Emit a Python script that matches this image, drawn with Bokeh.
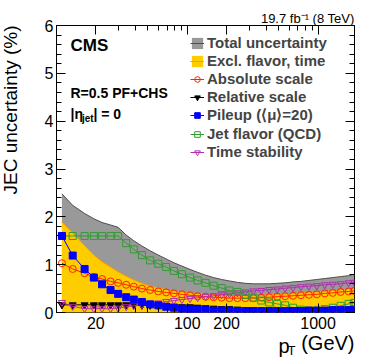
from bokeh.plotting import figure
from bokeh.models import (ColumnDataSource, Label, Legend, LegendItem, LogAxis, LinearAxis,
                          FixedTicker, Range1d, NumeralTickFormatter, SingleIntervalTicker)
from bokeh.embed import file_html
from bokeh.resources import INLINE
import math

# ---- data ----
pt = [11, 13.3, 16.4, 19.3, 22.3, 25.9, 29.6, 34.1, 39, 45, 52, 60, 69, 79, 91, 105, 120, 138,
      159, 183, 210, 242, 278, 320, 368, 423, 487, 560, 644, 740, 851, 979, 1126, 1295, 1489,
      1712, 1890]
total = [2.48, 2.24, 2.07, 1.96, 1.88, 1.83, 1.78, 1.62, 1.50, 1.39, 1.29, 1.20, 1.12, 1.04,
         0.97, 0.90, 0.84, 0.78, 0.73, 0.69, 0.66, 0.63, 0.61, 0.60, 0.60, 0.60, 0.61, 0.62,
         0.64, 0.65, 0.67, 0.69, 0.71, 0.73, 0.75, 0.77, 0.80]
excl = [1.89, 1.66, 1.40, 1.20, 1.06, 0.95, 0.85, 0.76, 0.68, 0.61, 0.55, 0.51, 0.48, 0.45,
        0.43, 0.41, 0.39, 0.38, 0.37, 0.36, 0.35, 0.35, 0.35, 0.35, 0.36, 0.37, 0.38, 0.39,
        0.40, 0.41, 0.42, 0.43, 0.44, 0.46, 0.47, 0.49, 0.50]
absolute = [1.03, 0.91, 0.82, 0.74, 0.70, 0.65, 0.62, 0.58, 0.54, 0.50, 0.47, 0.44, 0.42, 0.40,
            0.38, 0.36, 0.34, 0.33, 0.32, 0.31, 0.30, 0.30, 0.30, 0.30, 0.31, 0.32, 0.33, 0.34,
            0.35, 0.36, 0.37, 0.38, 0.40, 0.41, 0.43, 0.44, 0.45]
relative = [0.16, 0.16, 0.16, 0.16, 0.16, 0.16, 0.16, 0.16, 0.16, 0.15, 0.15, 0.14, 0.14, 0.13,
            0.12, 0.12, 0.11, 0.10, 0.09, 0.08, 0.08, 0.07, 0.06, 0.06, 0.05, 0.05, 0.04, 0.04,
            0.04, 0.04, 0.04, 0.04, 0.04, 0.04, 0.04, 0.04, 0.04]
pileup = [1.60, 1.19, 0.91, 0.73, 0.59, 0.47, 0.39, 0.32, 0.27, 0.22, 0.17, 0.15, 0.12, 0.10,
          0.08, 0.07, 0.06, 0.05, 0.04, 0.04, 0.04, 0.03, 0.03, 0.03, 0.03, 0.03, 0.03, 0.03,
          0.03, 0.03, 0.04, 0.04, 0.04, 0.05, 0.05, 0.05, 0.06]
flavor = [1.60, 1.60, 1.60, 1.60, 1.60, 1.60, 1.60, 1.45, 1.32, 1.20, 1.09, 1.02, 0.95, 0.87,
          0.80, 0.73, 0.67, 0.62, 0.56, 0.51, 0.46, 0.43, 0.37, 0.31, 0.25, 0.21, 0.18, 0.15,
          0.10, 0.06, 0.04, 0.04, 0.07, 0.10, 0.14, 0.18, 0.20]
time_stab = [0.21, 0.13, 0.08, 0.08, 0.08, 0.08, 0.09, 0.12, 0.14, 0.16, 0.18, 0.20, 0.23, 0.25,
             0.27, 0.29, 0.31, 0.33, 0.35, 0.37, 0.39, 0.41, 0.43, 0.45, 0.46, 0.48, 0.49, 0.51,
             0.52, 0.54, 0.55, 0.56, 0.58, 0.59, 0.60, 0.62, 0.63]

x_major = [20, 100, 200, 1000]
x_minor = [10, 30, 40, 50, 60, 70, 80, 90, 300, 400, 500, 600, 700, 800, 900, 2000]

src = ColumnDataSource(dict(pt=pt, total=total, excl=excl, absolute=absolute, relative=relative,
                            pileup=pileup, flavor=flavor, time_stab=time_stab))

FONT = "Liberation Sans"

p = figure(width=374, height=359, x_axis_type="log", x_range=Range1d(10, 1900),
           y_range=Range1d(0, 6), output_backend="svg", toolbar_location=None,
           min_border_left=56, min_border_right=20, min_border_top=25, min_border_bottom=47)
p.xgrid.visible = False
p.ygrid.visible = False
p.outline_line_color = "black"
p.outline_line_width = 1
p.background_fill_color = "white"
p.border_fill_color = "white"

# bands
g_band = p.varea(x="pt", y1=0, y2="total", source=src, fill_color="#999999")
g_line = p.line("pt", "total", source=src, line_color="#4d4d4d", line_width=1)
y_band = p.varea(x="pt", y1=0, y2="excl", source=src, fill_color="#ffcc00")
y_line = p.line("pt", "excl", source=src, line_color="#ff9900", line_width=1)

def series(col, color, marker, filled):
    ln = p.line("pt", col, source=src, line_color=color, line_width=1)
    sc = p.scatter("pt", col, source=src, marker=marker, size=7, line_color=color,
                   fill_color=color if filled else None, line_width=1)
    return [ln, sc]

r_abs = series("absolute", "#ff2200", "circle", False)
r_rel = series("relative", "black", "inverted_triangle", True)
r_time = series("time_stab", "#b030b0", "inverted_triangle", False)
r_flav = series("flavor", "#2f9e2f", "square", False)
r_pu = series("pileup", "#0000ff", "square", True)

# axes
def style_axis(ax, show_labels):
    ax.axis_line_color = None
    ax.major_tick_line_color = "black"
    ax.minor_tick_line_color = "black"
    ax.major_tick_in = 9
    ax.major_tick_out = 0
    ax.minor_tick_in = 5
    ax.minor_tick_out = 0
    ax.major_label_text_font = FONT
    if show_labels:
        ax.major_label_text_font_size = "16px"
        ax.major_label_text_color = "black"
    else:
        ax.major_label_text_font_size = "0px"
        ax.major_label_text_color = None

xa = p.xaxis[0]
xa.ticker = FixedTicker(ticks=x_major, minor_ticks=x_minor)
xa.formatter = NumeralTickFormatter(format="0")
xa.major_label_standoff = 4
style_axis(xa, True)
ya = p.yaxis[0]
ya.ticker = SingleIntervalTicker(interval=1, num_minor_ticks=5)
ya.major_label_standoff = 3
style_axis(ya, True)

top = LogAxis(ticker=FixedTicker(ticks=x_major, minor_ticks=x_minor))
style_axis(top, False)
top.major_label_standoff = 0
p.add_layout(top, "above")
right = LinearAxis(ticker=SingleIntervalTicker(interval=1, num_minor_ticks=5))
style_axis(right, False)
right.major_label_standoff = 0
p.add_layout(right, "right")

# legend
legend = Legend(items=[
    LegendItem(label="Total uncertainty", renderers=[g_band, g_line]),
    LegendItem(label="Excl. flavor, time", renderers=[y_band, y_line]),
    LegendItem(label="Absolute scale", renderers=r_abs),
    LegendItem(label="Relative scale", renderers=r_rel),
    LegendItem(label="Pileup (\u27e8\u03bc\u27e9=20)", renderers=r_pu),
    LegendItem(label="Jet flavor (QCD)", renderers=r_flav),
    LegendItem(label="Time stability", renderers=r_time),
], location=(134, 152), border_line_color=None, background_fill_alpha=0, padding=0, margin=0,
   spacing=1, glyph_width=14, glyph_height=14, label_height=15, label_standoff=3,
   label_text_font=FONT, label_text_font_style="bold", label_text_font_size="15px",
   label_text_baseline="middle")
p.add_layout(legend)

def mk(text, x, y, size, bold=False, align="left", baseline="middle", angle=0):
    return Label(x=x, y=y, x_units="screen", y_units="screen", text=text,
                 text_font=FONT, text_font_size=size,
                 text_font_style="bold" if bold else "normal",
                 text_align=align, text_baseline=baseline, angle=angle,
                 text_color="black")

# texts inside the frame (screen units relative to the frame)
p.add_layout(mk("CMS", 14, 267, "17px", bold=True))
p.add_layout(mk("R=0.5 PF+CHS", 14, 220, "14px", bold=True))
p.add_layout(mk("|\u03b7", 14, 199, "14px", bold=True))
p.add_layout(mk("jet", 25.5, 194, "10px", bold=True))
p.add_layout(mk("| = 0", 37, 199, "14px", bold=True))

# texts outside the frame, placed in side panels
p.add_layout(mk("JEC uncertainty (%)", -10, 287, "19px", align="right", angle=math.pi / 2), "left")
p.add_layout(mk("p", -65, -33, "20px", align="right", baseline="alphabetic"), "right")
p.add_layout(mk("T", -78, -38, "13px", baseline="alphabetic"), "right")
p.add_layout(mk("(GeV)", 298, 11, "20px", align="right", baseline="alphabetic"), "below")
p.add_layout(mk("19.7 fb\u207b\u00b9 (8 TeV)", 298, 7, "13px", align="right",
                baseline="alphabetic"), "above")

open("out.html", "w").write(file_html(p, INLINE))
